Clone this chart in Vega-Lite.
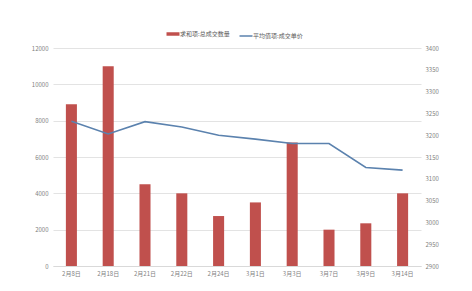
{
  "$schema": "https://vega.github.io/schema/vega-lite/v6.json",
  "autosize": {"type": "none"},
  "width": 368,
  "height": 218,
  "padding": {"left": 53, "top": 48, "right": 51, "bottom": 25},
  "background": "white",
  "config": {
    "view": {"stroke": null},
    "font": "Noto Sans CJK SC",
    "axis": {"labelFont": "Noto Sans CJK SC", "labelColor": "#7f7f7f", "labelFontSize": 6, "title": null}
  },
  "data": {
    "values": [
      {"date": "2月8日", "qty": 8900, "price": 3232},
      {"date": "2月18日", "qty": 11000, "price": 3203},
      {"date": "2月21日", "qty": 4500, "price": 3231},
      {"date": "2月22日", "qty": 4000, "price": 3219},
      {"date": "2月24日", "qty": 2750, "price": 3200},
      {"date": "3月1日", "qty": 3500, "price": 3191},
      {"date": "3月3日", "qty": 6800, "price": 3181},
      {"date": "3月7日", "qty": 2000, "price": 3181},
      {"date": "3月9日", "qty": 2350, "price": 3126},
      {"date": "3月14日", "qty": 4000, "price": 3120}
    ]
  },
  "encoding": {
    "x": {
      "field": "date", "type": "nominal", "sort": null,
      "scale": {"paddingInner": 0.7, "paddingOuter": 0.35},
      "axis": {"labelAngle": 0, "ticks": false, "domainColor": "#d9d9d9", "labelPadding": 4, "title": null}
    }
  },
  "layer": [
    {
      "transform": [{"calculate": "'求和项:总成交数量'", "as": "series"}],
      "mark": {"type": "bar", "color": "#C0504D"},
      "encoding": {
        "y": {
          "field": "qty", "type": "quantitative",
          "scale": {"domain": [0, 12000], "nice": false},
          "axis": {"values": [0, 2000, 4000, 6000, 8000, 10000, 12000], "format": "d", "domain": false, "ticks": false, "gridColor": "#e3e3e3", "labelPadding": 5, "title": null}
        },
        "color": {
          "field": "series", "type": "nominal",
          "scale": {"domain": ["求和项:总成交数量", "平均值项:成交单价"], "range": ["#C0504D", "#5B82AE"]},
          "legend": {
            "orient": "none", "legendX": 117, "legendY": -17, "direction": "horizontal",
            "title": null, "symbolType": "stroke", "symbolSize": 169,
            "labelFontSize": 6, "labelColor": "#595959", "labelFont": "Noto Sans CJK SC",
            "columnPadding": 6, "labelOffset": 4,
            "encode": {"symbols": {"update": {"strokeWidth": {"signal": "datum.value === '求和项:总成交数量' ? 3.5 : 1.5"}}}}
          }
        }
      }
    },
    {
      "transform": [{"calculate": "'平均值项:成交单价'", "as": "series"}],
      "mark": {"type": "line", "strokeWidth": 1.6},
      "encoding": {
        "y": {
          "field": "price", "type": "quantitative",
          "scale": {"domain": [2900, 3400], "nice": false, "zero": false},
          "axis": {"orient": "right", "values": [2900, 2950, 3000, 3050, 3100, 3150, 3200, 3250, 3300, 3350, 3400], "format": "d", "grid": false, "domain": false, "ticks": false, "labelPadding": 4, "title": null}
        },
        "color": {"field": "series", "type": "nominal"}
      }
    }
  ],
  "resolve": {"scale": {"y": "independent"}}
}
